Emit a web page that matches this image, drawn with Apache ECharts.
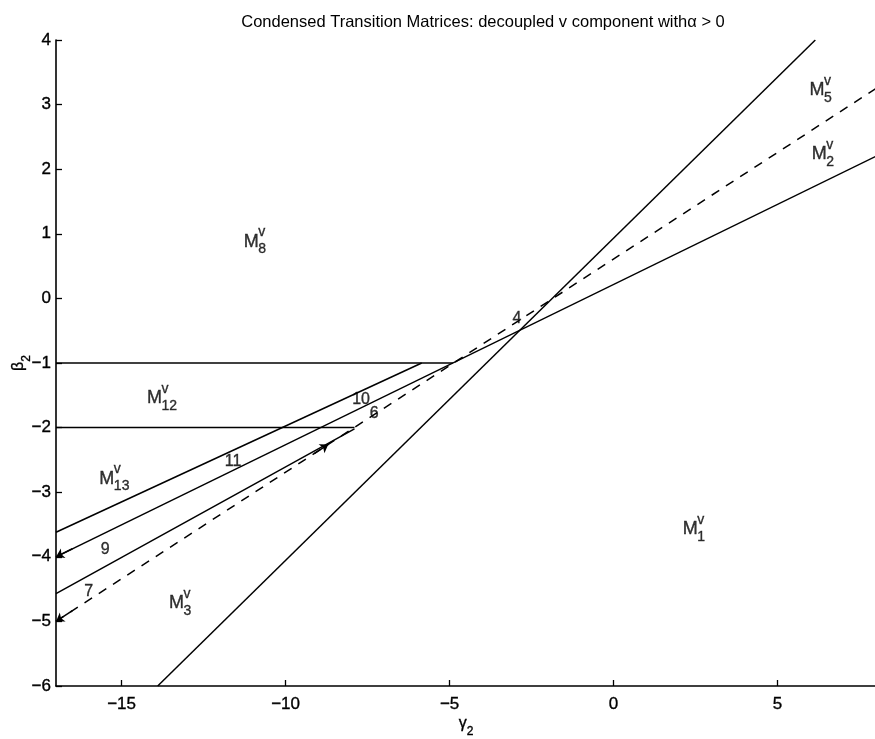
<!DOCTYPE html>
<html>
<head>
<meta charset="utf-8">
<script src="https://cdn.jsdelivr.net/npm/echarts@6/dist/echarts.min.js"></script>
<style>html,body{margin:0;padding:0;background:#fff}#c{width:875px;height:739px}</style>
</head>
<body>
<div id="c"></div>
<script>
// ---- data ----
const xTicks = [-15, -10, -5, 0, 5];
const yTicks = [4, 3, 2, 1, 0, -1, -2, -3, -4, -5, -6];
const steepLine  = [[-13.9, -6], [6.15, 4]];
const lineA      = [[-17, -3.62], [-5.85, -1]];
const lineB      = [[-17, -4.0], [8, 2.2]];
const lineC      = [[-17, -4.57], [-7.9, -2.02]];
const dashedLine = [[-17, -5.0], [8, 3.25]];
const hLineM1    = [[-17, -1], [-4.9, -1]];
const hLineM2    = [[-17, -2], [-7.9, -2]];
// region labels: [x, y, subscript]
const regionLabels = [
  [-11.05, 0.88, '8'],
  [-14.0, -1.55, '12'],
  [-15.45, -2.79, '13'],
  [-13.33, -4.72, '3'],
  [2.34, -3.57, '1'],
  [6.2, 3.23, '5'],
  [6.27, 2.24, '2']
];
// transition number labels: [x, y, text]
const numberLabels = [
  [-2.95, -0.31, '4'],
  [-7.7, -1.57, '10'],
  [-7.3, -1.79, '6'],
  [-11.6, -2.53, '11'],
  [-15.5, -3.89, '9'],
  [-16.0, -4.54, '7']
];

const FONT = 'Liberation Sans, Arial, Helvetica, sans-serif';
const INK = { color: '#000', textBorderColor: '#000', textBorderWidth: 0.35 };
const lerp = (seg, t) => [seg[0][0] + (seg[1][0] - seg[0][0]) * t, seg[0][1] + (seg[1][1] - seg[0][1]) * t];
const minus = v => String(v).replace('-', '\u2212');

function seg(data, dashed) {
  return {
    type: 'line', data: data, symbol: 'none', silent: true, animation: false,
    lineStyle: { color: '#000', width: 1.5, type: dashed ? [9, 8] : 'solid' }
  };
}
function arrowSeg(a, b, sym) {
  return [{ coord: a, symbol: sym[0] }, { coord: b, symbol: sym[1] }];
}

const labelItems = [];
regionLabels.forEach(r => {
  labelItems.push({ value: [r[0], r[1]], label: Object.assign({ formatter: 'M', fontSize: 18, align: 'center', offset: [0, 0] }, INK) });
  labelItems.push({ value: [r[0], r[1]], label: Object.assign({ formatter: 'v', fontSize: 14, align: 'left', offset: [7, -9] }, INK) });
  labelItems.push({ value: [r[0], r[1]], label: Object.assign({ formatter: r[2], fontSize: 14, align: 'left', offset: [7, 8] }, INK) });
});
numberLabels.forEach(n => {
  labelItems.push({ value: [n[0], n[1]], label: Object.assign({ formatter: n[2], fontSize: 16, align: 'center', offset: [0, 0] }, INK) });
});

const nameRich = {
  g: Object.assign({ fontSize: 16, fontFamily: FONT, lineHeight: 22, verticalAlign: 'top' }, INK),
  s: Object.assign({ fontSize: 12, fontFamily: FONT, lineHeight: 22, verticalAlign: 'bottom' }, INK)
};

const chart = echarts.init(document.getElementById('c'), null, { renderer: 'canvas' });
chart.setOption({
  animation: false,
  backgroundColor: '#fff',
  textStyle: { fontFamily: FONT, color: '#000' },
  title: {
    text: 'Condensed Transition Matrices: decoupled v component with\u03b1 > 0',
    left: 478, top: 9, textAlign: 'center',
    textStyle: { fontSize: 16.5, fontWeight: 'normal', color: '#000', fontFamily: FONT }
  },
  grid: { left: 56, right: -1, top: 40, bottom: 53, outerBoundsMode: 'none' },
  xAxis: {
    type: 'value', min: -17, max: 8,
    name: '{g|\u03b3}{s|2}', nameLocation: 'middle', nameGap: 30, nameMoveOverlap: false,
    nameTextStyle: { rich: nameRich },
    axisLine: { show: true, onZero: false, lineStyle: { color: '#000', width: 1.6 } },
    axisTick: { show: true, inside: true, length: 6, customValues: xTicks, lineStyle: { color: '#000', width: 1.3 } },
    axisLabel: Object.assign({ show: true, customValues: xTicks, margin: 10, fontSize: 17, fontFamily: FONT, formatter: minus }, INK),
    splitLine: { show: false }
  },
  yAxis: {
    type: 'value', min: -6, max: 4, interval: 1,
    name: '{g|\u03b2}{s|2}', nameLocation: 'middle', nameGap: 23, nameRotate: 90, nameMoveOverlap: false,
    nameTextStyle: { rich: nameRich },
    axisLine: { show: true, onZero: false, lineStyle: { color: '#000', width: 1.6 } },
    axisTick: { show: true, inside: true, length: 6, customValues: yTicks, lineStyle: { color: '#000', width: 1.3 } },
    axisLabel: Object.assign({ show: true, customValues: yTicks, margin: 5, fontSize: 17, fontFamily: FONT, formatter: minus }, INK),
    splitLine: { show: false }
  },
  series: [
    seg(steepLine), seg(lineA), seg(lineB), seg(lineC), seg(dashedLine, true), seg(hLineM1), seg(hLineM2),
    {
      type: 'line', data: [], silent: true, animation: false,
      markLine: {
        silent: true, animation: false, symbolSize: 8, label: { show: false },
        lineStyle: { color: '#000', width: 1.5, type: 'solid' },
        data: [
          arrowSeg(lineB[0], lerp(lineB, 0.02), ['arrow', 'none']),
          arrowSeg(dashedLine[0], lerp(dashedLine, 0.02), ['arrow', 'none']),
          arrowSeg(lerp(dashedLine, 0.315), lerp(dashedLine, 0.332), ['none', 'arrow'])
        ]
      }
    },
    {
      type: 'scatter', data: labelItems, symbolSize: 0, silent: true, animation: false,
      label: { show: true, position: 'inside', fontFamily: FONT, verticalAlign: 'middle' },
      z: 5
    }
  ]
});
</script>
</body>
</html>
